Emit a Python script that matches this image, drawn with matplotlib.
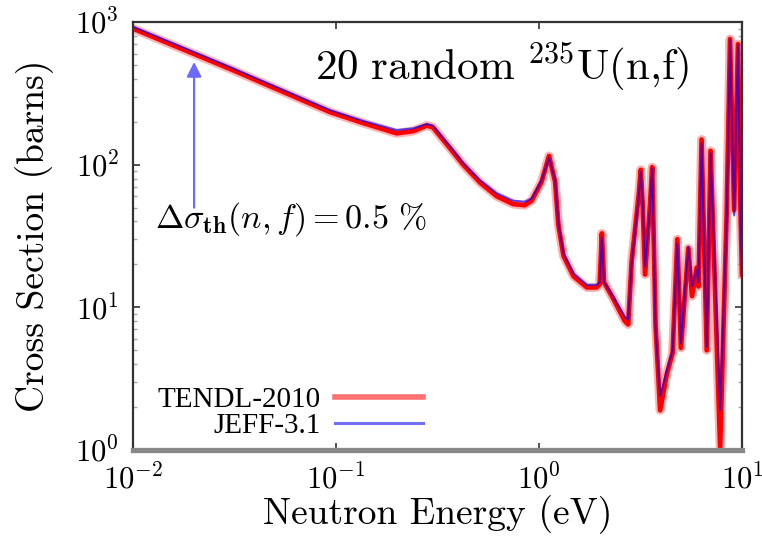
import matplotlib
matplotlib.use("Agg")
import matplotlib.pyplot as plt
from matplotlib.lines import Line2D
from matplotlib.ticker import LogLocator, NullLocator

plt.rcParams['font.family'] = ['cmr10']
plt.rcParams['mathtext.fontset'] = 'cm'
plt.rcParams['axes.formatter.use_mathtext'] = True

# ---- data ----
energy = [0.01, 0.030, 0.0933, 0.136, 0.199, 0.24, 0.28, 0.30, 0.365, 0.423,
          0.512, 0.62, 0.745, 0.85, 0.92, 1.03, 1.12, 1.2, 1.245, 1.32,
          1.48, 1.72, 1.92, 1.99, 2.04, 2.09, 2.32, 2.65, 2.75, 2.86,
          3.10, 3.17, 3.24, 3.33, 3.52, 3.61, 3.75, 3.95, 4.26, 4.55,
          4.8, 5.0, 5.44, 5.67, 5.98, 6.1, 6.32, 6.7, 7.0, 7.8,
          8.4, 8.73, 9.14, 9.55, 9.85, 10.0]
jeff = [930, 485, 242, 203, 175, 180, 193, 188, 134, 103,
        78, 63, 56, 55, 58, 78, 112, 78, 39, 24,
        17.3, 14.4, 14.4, 15, 31, 15, 11.9, 8.6, 8.2, 20.4,
        60, 89, 55, 19.3, 50, 94, 7.0, 2.4, 3.6, 5.0,
        28, 5.6, 26.6, 14, 18.3, 15, 141, 5.3, 120, 1.9,
        41, 750, 44, 690, 38, 16]
tendl = [900, 470, 234, 196, 166, 172, 188, 183, 130, 100,
         75, 60, 53, 52, 56, 76, 115, 76, 38, 23,
         16.5, 13.8, 13.8, 14.5, 33, 15, 11.5, 8.0, 7.6, 21,
         62, 92, 52, 17, 52, 96, 7.5, 1.9, 3.4, 4.8,
         30, 5.2, 26, 12, 19, 14, 150, 5.0, 125, 1.05,
         45, 760, 48, 700, 40, 17]
series_labels = ['TENDL-2010', 'JEFF-3.1']
arrow_energy = 0.02
arrow_from, arrow_to = 50, 525

fig = plt.figure(figsize=(7.62, 5.36), dpi=100)
ax = fig.add_axes([0.1745, 0.1604, 0.7993, 0.7985])

ax.plot(energy, tendl, color='#ff0000', lw=6.5, alpha=0.3, solid_joinstyle='round')
ax.plot(energy, tendl, color='#ff0000', lw=3.4, solid_joinstyle='round')
ax.plot(energy, jeff, color='#0000ff', lw=1.4, alpha=0.65, solid_joinstyle='round')

ax.set_xscale('log')
ax.set_yscale('log')
ax.set_xlim(1e-2, 1e1)
ax.set_ylim(1e0, 1e3)

ax.xaxis.set_major_locator(LogLocator(base=10, numticks=10))
ax.xaxis.set_minor_locator(NullLocator())
ax.yaxis.set_major_locator(LogLocator(base=10, numticks=10))
ax.yaxis.set_minor_locator(LogLocator(base=10, subs=(2, 3, 4, 5, 6, 7, 8, 9), numticks=10))

ax.tick_params(which='both', direction='in', top=True, right=True, labelsize=22)
ax.tick_params(which='major', length=5, width=1.2, color='#333333', pad=10)
ax.tick_params(which='minor', length=3, width=1, color='#aaaaaa')

for side in ['top', 'left', 'right']:
    ax.spines[side].set_color('#333333')
    ax.spines[side].set_linewidth(1.6)
ax.spines['bottom'].set_color('#888888')
ax.spines['bottom'].set_linewidth(3.8)

ax.set_xlabel('Neutron Energy (eV)', fontsize=27)
ax.set_ylabel('Cross Section (barns)', fontsize=27)
ax.xaxis.set_label_coords(0.5, -0.105)
ax.yaxis.set_label_coords(-0.13, 0.5)

ax.text(0.299, 0.864, r'$\mathrm{20\ random\ }^{235}\mathrm{U(n{,}f)}$', transform=ax.transAxes,
        fontsize=31, ha='left', va='baseline')
ax.text(0.036, 0.519, r'$\Delta\sigma_{\mathbf{th}}(n,f) = 0.5\ \%$', transform=ax.transAxes,
        fontsize=24.5, ha='left', va='baseline')

ax.annotate('', xy=(arrow_energy, arrow_to), xytext=(arrow_energy, arrow_from),
            arrowprops=dict(arrowstyle='-|>', color='#6b6bff', lw=1.6, mutation_scale=22,
                            shrinkA=0, shrinkB=0))

handles = [Line2D([], [], color='#ff7070', lw=4), Line2D([], [], color='#7070f0', lw=2.2)]
leg = ax.legend(handles, series_labels, loc='lower right', bbox_to_anchor=(0.476, 0.025),
                markerfirst=False, frameon=False, handlelength=3.0, handletextpad=0.5,
                labelspacing=0.0, borderaxespad=0, borderpad=0,
                prop={'family': 'Liberation Serif', 'size': 21})

fig.savefig('out.png', dpi=100)
